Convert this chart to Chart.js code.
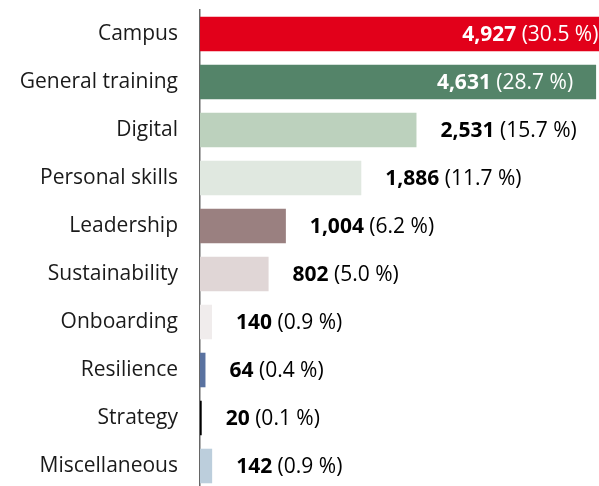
<!DOCTYPE html>
<html>
<head>
<meta charset="utf-8">
<style>
  html, body { margin: 0; padding: 0; background: #fff; overflow: hidden; }
  #wrap { width: 599px; height: 492px; }
</style>
<script src="https://cdn.jsdelivr.net/npm/chart.js@4/dist/chart.umd.min.js"></script>
</head>
<body>
<div id="wrap"><canvas id="chart" width="599" height="492"></canvas></div>
<script>
const categories = ['Campus', 'General training', 'Digital', 'Personal skills', 'Leadership',
    'Sustainability', 'Onboarding', 'Resilience', 'Strategy', 'Miscellaneous'];
const participants = [4927, 4631, 2531, 1886, 1004, 802, 140, 64, 20, 142];
const shares = ['30.5', '28.7', '15.7', '11.7', '6.2', '5.0', '0.9', '0.4', '0.1', '0.9'];
const barColors = ['#e2001a', '#548469', '#bcd1bd', '#e0e8e0', '#9a8080',
    '#e0d6d6', '#f0ecec', '#5a72a0', '#000000', '#bccedc'];
const insideLabel = [true, true, false, false, false, false, false, false, false, false];

const fontFamily = "'Open Sans', 'Noto Sans', sans-serif";
const fontSize = 21;

const valueLabels = {
    id: 'valueLabels',
    afterDatasetsDraw(chart) {
        const ctx = chart.ctx;
        const meta = chart.getDatasetMeta(0);
        ctx.save();
        ctx.textBaseline = 'middle';
        meta.data.forEach((bar, i) => {
            const num = participants[i].toLocaleString('en-US');
            const pct = ' (' + shares[i] + ' %)';
            ctx.font = 'bold ' + fontSize + 'px ' + fontFamily;
            const wNum = ctx.measureText(num).width;
            ctx.font = fontSize + 'px ' + fontFamily;
            const wPct = ctx.measureText(pct).width;
            let x;
            if (insideLabel[i]) {
                x = bar.x - 23 - wNum - wPct;
                ctx.fillStyle = '#ffffff';
            } else {
                x = bar.x + 24;
                ctx.fillStyle = '#000000';
            }
            ctx.font = 'bold ' + fontSize + 'px ' + fontFamily;
            ctx.fillText(num, x, bar.y + 1);
            ctx.font = fontSize + 'px ' + fontFamily;
            ctx.fillText(pct, x + wNum, bar.y + 1);
        });
        ctx.restore();
    }
};

new Chart(document.getElementById('chart'), {
    type: 'bar',
    data: {
        labels: categories,
        datasets: [{
            data: participants,
            backgroundColor: barColors,
            borderWidth: 0,
            barPercentage: 0.72,
            categoryPercentage: 1
        }]
    },
    options: {
        indexAxis: 'y',
        responsive: false,
        animation: false,
        layout: { padding: { top: 10, bottom: 2, right: 0, left: 0 } },
        plugins: {
            legend: { display: false },
            tooltip: { enabled: false }
        },
        scales: {
            x: {
                display: false,
                min: 0,
                max: 4665
            },
            y: {
                afterFit(scale) {
                    scale.width = 200;
                    scale.paddingTop = 0;
                    scale.paddingBottom = 0;
                },
                grid: { display: false, drawTicks: false },
                border: { display: true, color: '#666666', width: 1.5 },
                ticks: {
                    padding: 22,
                    color: '#1a1a1a',
                    font: { size: fontSize, family: fontFamily }
                }
            }
        }
    },
    plugins: [valueLabels]
});
</script>
</body>
</html>
